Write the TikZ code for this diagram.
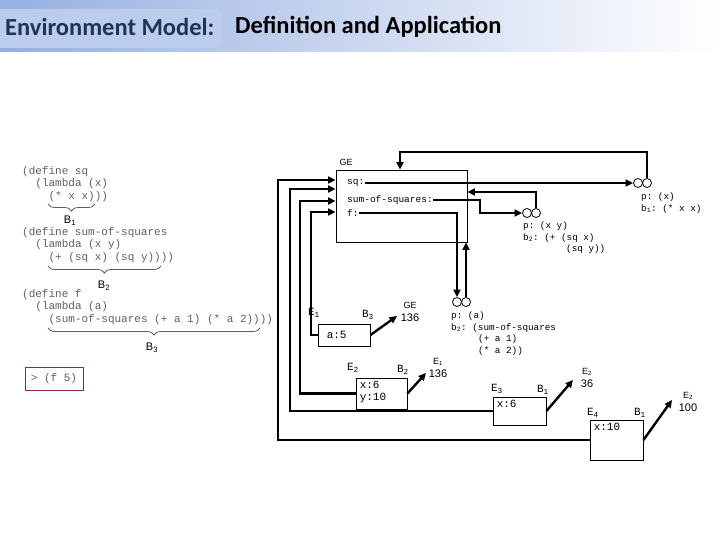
\documentclass[tikz,border=0pt]{standalone}
\usepackage{fontspec}
\setmainfont{Liberation Sans}
\setsansfont{Liberation Sans}
\setmonofont{Liberation Mono}
\newfontfamily\titlefont{Carlito}
\usetikzlibrary{arrows.meta,positioning,decorations.pathreplacing}
\definecolor{barblue}{RGB}{150,175,225}
\definecolor{panelblue}{RGB}{188,204,236}
\definecolor{slate}{RGB}{30,52,84}
\definecolor{codegray}{RGB}{95,95,95}
\definecolor{callred}{RGB}{150,40,50}
\tikzset{
  >={Triangle[length=7.5pt,width=7pt]},
  ptr/.style={->,line width=2.4pt},
  env/.style={draw,line width=0.9pt,inner sep=0pt},
  dot/.style={circle,draw,line width=0.8pt,minimum size=9pt,inner sep=0pt},
  slot/.style={font=\fontsize{9.5}{11.5}\ttfamily,anchor=west,inner sep=0pt},
  lam/.style={font=\fontsize{9.3}{11.5}\ttfamily,anchor=north west,align=left,inner sep=0pt},
  code/.style={font=\fontsize{11}{12.5}\ttfamily,text=codegray,anchor=north west,align=left,inner sep=0pt},
  brc/.style={decorate,decoration={brace,mirror,amplitude=7pt},draw=codegray,line width=0.8pt},
  tag/.style={font=\fontsize{11}{12.5}\sffamily,inner sep=0pt,align=center},
  ename/.style={font=\fontsize{11}{12}\ttfamily,inner sep=0pt},
  bind/.style={font=\fontsize{11}{12}\ttfamily,anchor=north west,inner sep=0pt,align=left},
  heading/.style={font=\fontsize{24.5}{28}\titlefont\bfseries,anchor=west,inner sep=0pt},
}
\begin{document}
\begin{tikzpicture}[x=1pt,y=-1pt]
  \useasboundingbox (0,0) rectangle (720,540);
  % title bar
  \shade[left color=barblue,right color=white] (0,0) rectangle (720,52);
  \fill[panelblue,rounded corners=7pt] (-8,9) rectangle (222,48);
  \node[heading,text=slate] (ttl) at (5,27) {Environment Model:};
  \node[heading,text=black] (sub) at (235,27) {Definition and Application};

  % source code
  \node[code] (def1) at (22,166) {(define sq\\\ \ (lambda (x)\\\ \ \ \ (* x x)))};
  \node[code] (def2) at (22,227) {(define sum-of-squares\\\ \ (lambda (x y)\\\ \ \ \ (+ (sq x) (sq y))))};
  \node[code] (def3) at (22,289) {(define f\\\ \ (lambda (a)\\\ \ \ \ (sum-of-squares (+ a 1) (* a 2))))};
  \draw[brc] (48,204) -- (95,204);
  \draw[brc] (48,266) -- (161,266);
  \draw[brc] (48,328) -- (260,328);
  \node[tag] (b1) at (70,221) {B\textsubscript{1}};
  \node[tag] (b2) at (104,286) {B\textsubscript{2}};
  \node[tag] (b3) at (152,348) {B\textsubscript{3}};
  \node[draw=callred,line width=1pt,minimum width=58pt,minimum height=23pt,
    font=\fontsize{11}{12}\ttfamily,text=codegray] (call) at (54,379) {> (f 5)};

  % global environment
  \node[env,minimum width=131pt,minimum height=72pt] (ge) at (401.5,206) {};
  \node[tag,font=\fontsize{9}{11}\sffamily] (gename) at (346,162) {GE};
  \node[slot] (sq) at (347,183) {sq:};
  \node[slot] (sos) at (347,200) {sum-of-squares:};
  \node[slot] (fs) at (347,213) {f:};

  % procedure objects
  \node[dot] (p1l) at (638,183) {};
  \node[dot] (p1r) at (647,183) {};
  \node[dot] (p2l) at (527,213) {};
  \node[dot] (p2r) at (536,213) {};
  \node[dot] (p3l) at (457,302) {};
  \node[dot] (p3r) at (466,302) {};
  \node[lam] (t1) at (641,193) {p: (x)\\b\textsubscript{1}: (* x x)};
  \node[lam] (t2) at (523,222) {p: (x y)\\b\textsubscript{2}: (+ (sq x)\\\hspace*{43pt}(sq y))};
  \node[lam] (t3) at (451,312) {p: (a)\\b\textsubscript{2}: (sum-of-squares\\\hspace*{27pt}(+ a 1)\\\hspace*{27pt}(* a 2))};

  \draw[ptr] (sq.east) -- (p1l.west);
  \coordinate (up1) at (400,152);
  \draw[ptr] (p1r.north) |- (up1) -- (up1 |- ge.north);
  \coordinate (bend2) at (480,200);
  \draw[ptr] (sos.east) -- (bend2) |- (p2l.west);
  \draw[ptr] (p2r.north) |- (ge.east |- 0,192);
  \draw[ptr] (fs.east) -| (p3l.north);
  \draw[ptr] (p3r.north) -- (p3r |- ge.south);

  % frames
  \node[env,minimum width=52pt,minimum height=22pt] (e1) at (344,335) {};
  \node[env,minimum width=51pt,minimum height=31pt] (e2) at (381.5,393.5) {};
  \node[env,minimum width=53pt,minimum height=28pt] (e3) at (519.5,411) {};
  \node[env,minimum width=53pt,minimum height=40pt] (e4) at (616.5,440) {};
  \node[bind,anchor=west] (a1) at ([xshift=9pt]e1.west) {a:5};
  \node[bind] (x2) at ([xshift=4pt,yshift=-3pt]e2.north west) {x:6\\y:10};
  \node[bind] (x3) at ([xshift=4pt,yshift=-3pt]e3.north west) {x:6};
  \node[bind] (x4) at ([xshift=4pt,yshift=-3pt]e4.north west) {x:10};
  \node[ename] (e1n) at (314,313) {E\textsubscript{1}};
  \node[ename] (b3n) at (368,315) {B\textsubscript{3}};
  \node[ename] (e2n) at (353,368) {E\textsubscript{2}};
  \node[ename] (b2n) at (403,370) {B\textsubscript{2}};
  \node[ename] (e3n) at (497,389) {E\textsubscript{3}};
  \node[ename] (b1n) at (543,390) {B\textsubscript{1}};
  \node[ename] (e4n) at (593,413) {E\textsubscript{4}};
  \node[ename] (b1m) at (640,413) {B\textsubscript{1}};
  \foreach \f/\x/\y in {e1/311/212,e2/300/201,e3/290/189,e4/278/180}
    \draw[ptr] (\f.west) -| (\x,\y) -- (ge.west |- \x,\y);

  % returned values
  \coordinate (r1) at (397,316);
  \coordinate (r2) at (426,373);
  \coordinate (r3) at (573,380);
  \coordinate (r4) at (672,400);
  \draw[ptr] (e1.east) -- (r1);
  \draw[ptr] (e2.east) -- (r2);
  \draw[ptr] (e3.east) -- (r3);
  \draw[ptr] (e4.east) -- (r4);
  \node[tag] (v1) at (410,312) {{\fontsize{9}{11}\selectfont GE}\\136};
  \node[tag] (v2) at (438,368) {{\fontsize{9}{11}\selectfont E\textsubscript{1}}\\136};
  \node[tag] (v3) at (587,378) {{\fontsize{9}{11}\selectfont E\textsubscript{2}}\\36};
  \node[tag] (v4) at (688,402) {{\fontsize{9}{11}\selectfont E\textsubscript{2}}\\100};
\end{tikzpicture}
\end{document}
